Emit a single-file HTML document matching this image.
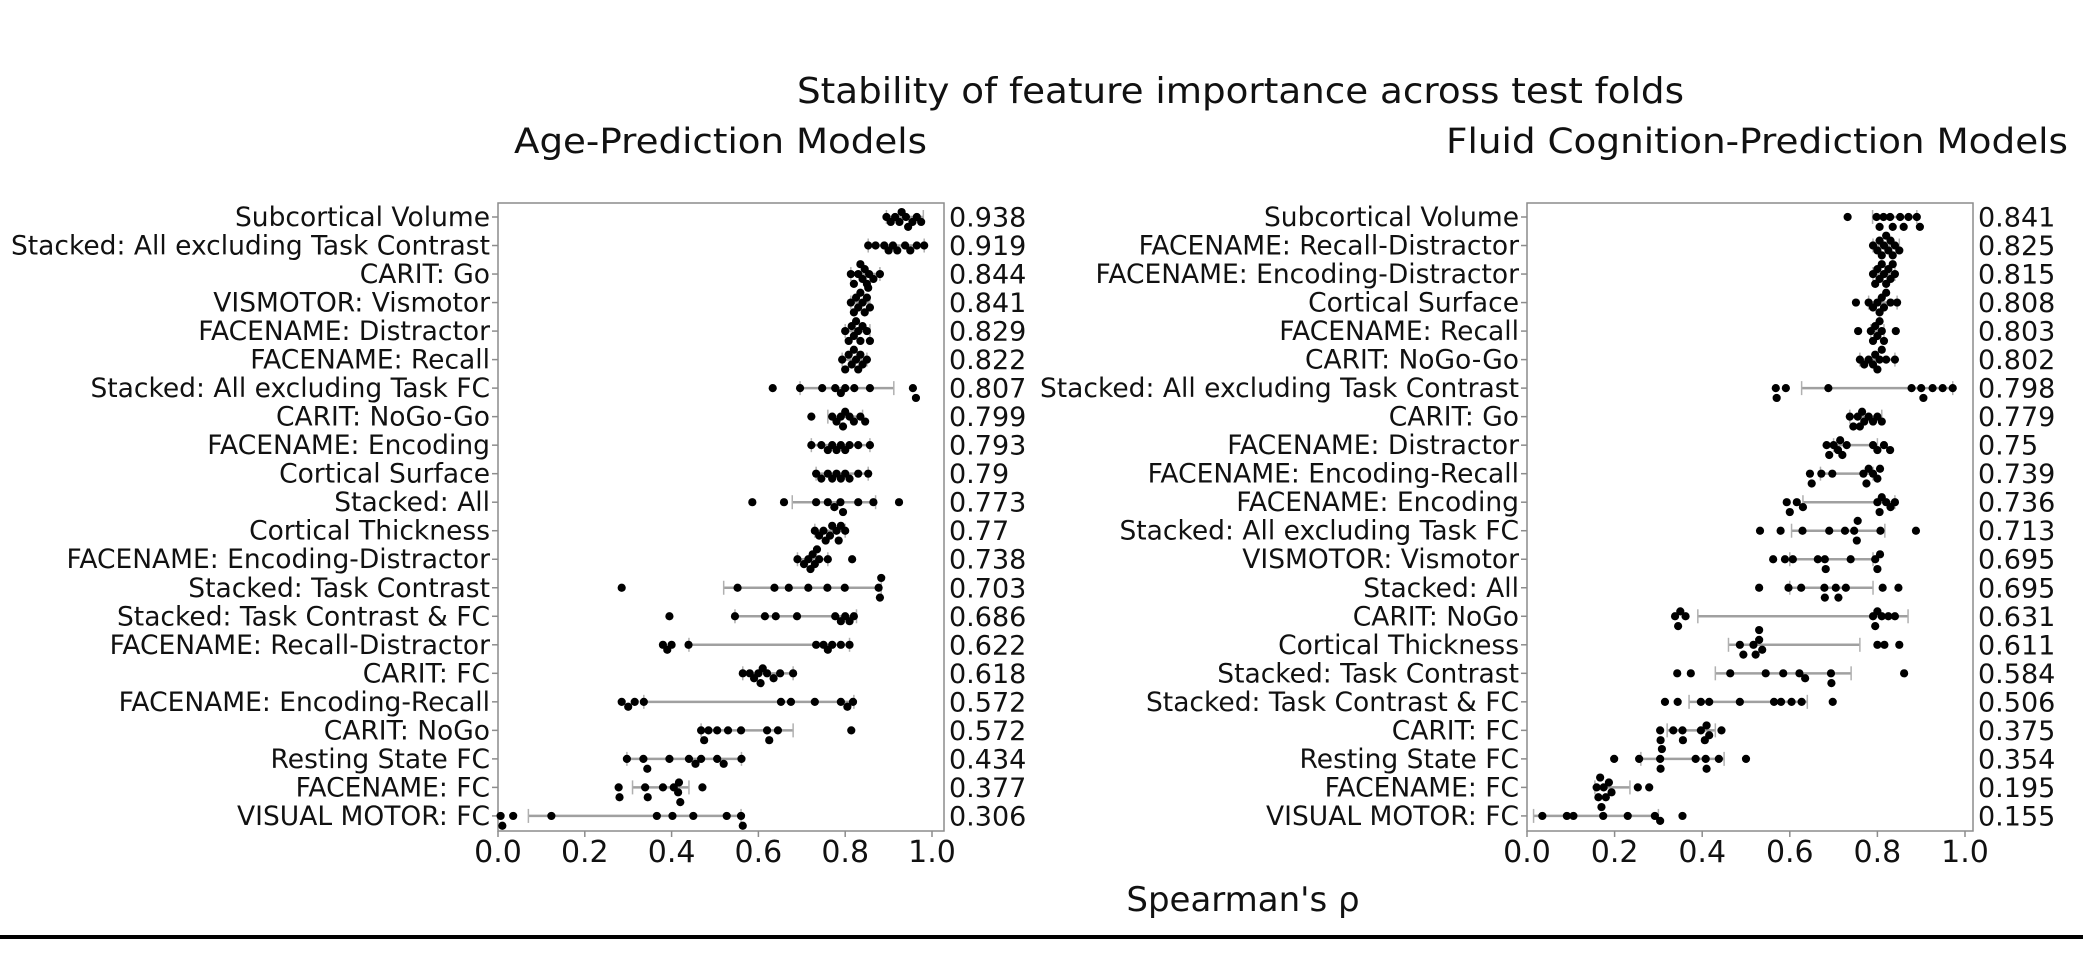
<!DOCTYPE html>
<html><head><meta charset="utf-8">
<style>
html,body{margin:0;padding:0;background:#fff;}
svg{display:block;font-family:"DejaVu Sans","Liberation Sans",sans-serif;}
</style></head>
<body>
<svg id="chart" width="2083" height="966" viewBox="0 0 2083 966" xmlns="http://www.w3.org/2000/svg">
<rect x="0" y="0" width="2083" height="966" fill="#fff"/>
<text x="797" y="103" font-size="36" textLength="887" lengthAdjust="spacingAndGlyphs" fill="#111">Stability of feature importance across test folds</text>
<text x="514" y="153" font-size="35" textLength="413" lengthAdjust="spacingAndGlyphs" fill="#111">Age-Prediction Models</text>
<text x="1446" y="153" font-size="35" textLength="622" lengthAdjust="spacingAndGlyphs" fill="#111">Fluid Cognition-Prediction Models</text>
<text x="1243" y="911" font-size="34" text-anchor="middle" fill="#111">Spearman's ρ</text>
<rect x="0" y="935" width="2083" height="4" fill="#000"/>
<g id="panels"></g>
</svg>
<script>
// ---- Age panel data ----
const ageLabels = ["Subcortical Volume","Stacked: All excluding Task Contrast","CARIT: Go","VISMOTOR: Vismotor","FACENAME: Distractor","FACENAME: Recall","Stacked: All excluding Task FC","CARIT: NoGo-Go","FACENAME: Encoding","Cortical Surface","Stacked: All","Cortical Thickness","FACENAME: Encoding-Distractor","Stacked: Task Contrast","Stacked: Task Contrast & FC","FACENAME: Recall-Distractor","CARIT: FC","FACENAME: Encoding-Recall","CARIT: NoGo","Resting State FC","FACENAME: FC","VISUAL MOTOR: FC"];
const ageMeans = ["0.938","0.919","0.844","0.841","0.829","0.822","0.807","0.799","0.793","0.79","0.773","0.77","0.738","0.703","0.686","0.622","0.618","0.572","0.572","0.434","0.377","0.306"];
const agePoints = [
 [0.895,0.905,0.915,0.925,0.93,0.94,0.945,0.955,0.965,0.975],
 [0.853,0.87,0.89,0.9,0.91,0.92,0.938,0.95,0.965,0.982],
 [0.813,0.82,0.83,0.835,0.84,0.845,0.85,0.855,0.865,0.88],
 [0.813,0.82,0.825,0.83,0.835,0.84,0.845,0.85,0.853,0.857],
 [0.8,0.808,0.815,0.82,0.825,0.83,0.835,0.84,0.85,0.857],
 [0.793,0.8,0.808,0.815,0.82,0.825,0.83,0.835,0.84,0.85],
 [0.633,0.696,0.747,0.777,0.79,0.8,0.821,0.857,0.956,0.963],
 [0.722,0.77,0.78,0.79,0.795,0.8,0.81,0.82,0.835,0.846],
 [0.722,0.745,0.76,0.77,0.78,0.79,0.8,0.81,0.83,0.857],
 [0.733,0.745,0.76,0.77,0.78,0.79,0.8,0.81,0.83,0.853],
 [0.586,0.659,0.733,0.76,0.775,0.789,0.795,0.83,0.865,0.924],
 [0.73,0.74,0.75,0.755,0.765,0.77,0.78,0.785,0.79,0.8],
 [0.69,0.705,0.715,0.72,0.725,0.73,0.735,0.74,0.76,0.816],
 [0.285,0.552,0.637,0.67,0.715,0.759,0.799,0.877,0.88,0.883],
 [0.395,0.546,0.615,0.64,0.689,0.777,0.79,0.8,0.81,0.82],
 [0.38,0.39,0.4,0.439,0.733,0.75,0.76,0.77,0.79,0.81],
 [0.564,0.58,0.59,0.6,0.605,0.61,0.62,0.635,0.65,0.68],
 [0.285,0.3,0.315,0.336,0.652,0.675,0.73,0.79,0.805,0.818],
 [0.468,0.475,0.485,0.505,0.53,0.56,0.62,0.625,0.645,0.814],
 [0.297,0.335,0.344,0.395,0.44,0.455,0.468,0.505,0.52,0.561],
 [0.278,0.28,0.339,0.345,0.38,0.405,0.415,0.417,0.42,0.471],
 [0.006,0.01,0.035,0.123,0.366,0.402,0.45,0.527,0.56,0.564]
];
const ageWhisk = [[0.895,0.98],[0.853,0.982],[0.813,0.88],[0.813,0.857],[0.8,0.857],[0.793,0.85],[0.696,0.912],[0.76,0.84],[0.722,0.857],[0.733,0.853],[0.678,0.87],[0.73,0.8],[0.69,0.76],[0.52,0.883],[0.546,0.826],[0.44,0.81],[0.564,0.68],[0.336,0.82],[0.468,0.68],[0.297,0.561],[0.31,0.44],[0.07,0.56]];

// ---- Fluid cognition panel data ----
const fluidLabels = ["Subcortical Volume","FACENAME: Recall-Distractor","FACENAME: Encoding-Distractor","Cortical Surface","FACENAME: Recall","CARIT: NoGo-Go","Stacked: All excluding Task Contrast","CARIT: Go","FACENAME: Distractor","FACENAME: Encoding-Recall","FACENAME: Encoding","Stacked: All excluding Task FC","VISMOTOR: Vismotor","Stacked: All","CARIT: NoGo","Cortical Thickness","Stacked: Task Contrast","Stacked: Task Contrast & FC","CARIT: FC","Resting State FC","FACENAME: FC","VISUAL MOTOR: FC"];
const fluidMeans = ["0.841","0.825","0.815","0.808","0.803","0.802","0.798","0.779","0.75","0.739","0.736","0.713","0.695","0.695","0.631","0.611","0.584","0.506","0.375","0.354","0.195","0.155"];
const fluidPoints = [
 [0.732,0.798,0.805,0.814,0.829,0.835,0.852,0.86,0.871,0.89,0.897],
 [0.79,0.8,0.805,0.81,0.815,0.82,0.825,0.83,0.835,0.84,0.85],
 [0.79,0.795,0.8,0.805,0.81,0.815,0.82,0.825,0.83,0.835,0.84],
 [0.751,0.78,0.79,0.8,0.805,0.81,0.815,0.82,0.83,0.845],
 [0.756,0.785,0.79,0.795,0.8,0.805,0.81,0.815,0.842],
 [0.76,0.77,0.78,0.79,0.795,0.8,0.805,0.81,0.82,0.84],
 [0.568,0.57,0.591,0.688,0.878,0.9,0.905,0.926,0.949,0.972],
 [0.737,0.745,0.755,0.76,0.765,0.77,0.78,0.79,0.8,0.81],
 [0.684,0.69,0.7,0.71,0.715,0.72,0.73,0.79,0.8,0.815,0.829],
 [0.646,0.65,0.672,0.697,0.768,0.775,0.78,0.79,0.8,0.806],
 [0.593,0.6,0.616,0.63,0.8,0.805,0.81,0.82,0.83,0.84],
 [0.532,0.579,0.629,0.69,0.726,0.747,0.753,0.755,0.807,0.888],
 [0.562,0.589,0.607,0.664,0.68,0.682,0.739,0.795,0.8,0.806],
 [0.53,0.597,0.626,0.679,0.68,0.705,0.711,0.728,0.812,0.848],
 [0.338,0.345,0.35,0.362,0.79,0.795,0.8,0.81,0.825,0.84],
 [0.486,0.494,0.517,0.522,0.53,0.53,0.537,0.8,0.816,0.85],
 [0.343,0.374,0.464,0.545,0.585,0.622,0.635,0.694,0.695,0.861],
 [0.315,0.344,0.397,0.416,0.486,0.564,0.58,0.604,0.627,0.698],
 [0.304,0.305,0.334,0.355,0.356,0.397,0.406,0.41,0.416,0.444],
 [0.199,0.256,0.304,0.305,0.308,0.385,0.408,0.41,0.438,0.5],
 [0.159,0.163,0.167,0.17,0.175,0.18,0.187,0.193,0.253,0.279],
 [0.035,0.091,0.106,0.174,0.23,0.292,0.304,0.355]
];
const fluidWhisk = [[0.789,0.89],[0.79,0.85],[0.79,0.84],[0.78,0.845],[0.785,0.815],[0.76,0.84],[0.627,0.972],[0.737,0.81],[0.7,0.8],[0.67,0.79],[0.63,0.84],[0.604,0.817],[0.6,0.79],[0.6,0.79],[0.39,0.87],[0.46,0.76],[0.43,0.74],[0.37,0.64],[0.32,0.43],[0.26,0.45],[0.155,0.235],[0.015,0.3]];
const xTicks = ["0.0","0.2","0.4","0.6","0.8","1.0"];

const NS = "http://www.w3.org/2000/svg";
const root = document.getElementById('panels');
function mk(tag, attrs, parent){ const e=document.createElementNS(NS,tag); for(const k in attrs) e.setAttribute(k,attrs[k]); (parent||root).appendChild(e); return e; }

const TOP=203, BOT=831, ROW0=217, ROWSTEP=28.52, R=4.1;

function panel(name, x0, x1val, labels, means, pts, whisk){
  const frameR = x0 + 446;
  const xs = v => x0 + v*(x1val - x0);
  const ys = i => ROW0 + i*ROWSTEP;
  const g = mk('g',{});
  
  
  const fr = mk('rect',{x:x0,y:TOP,width:frameR-x0,height:BOT-TOP,fill:'none',stroke:'#8c8c8c','stroke-width':1.5},g);
  
  
  xTicks.forEach(t=>{
    const v=parseFloat(t), X=xs(v);
    const tk=mk('line',{x1:X,x2:X,y1:BOT,y2:BOT+6,stroke:'#8c8c8c','stroke-width':1.5},g);
    
    
    const tl=mk('text',{x:X,y:862,'font-size':30,'text-anchor':'middle',fill:'#111'},g);
    tl.textContent=t;
    
    
  });
  labels.forEach((lab,i)=>{
    const Y=ys(i);
    const tk=mk('line',{x1:x0-6,x2:x0,y1:Y,y2:Y,stroke:'#8c8c8c','stroke-width':1.5},g);
    
    
    const tl=mk('text',{x:x0-8,y:Y+9,'font-size':26.5,'text-anchor':'end',fill:'#111'},g);
    tl.textContent=lab;
    
    
    const mv=mk('text',{x:frameR+5,y:Y+9.5,'font-size':27,fill:'#111'},g);
    mv.textContent=means[i];
    
    
    const w=whisk[i];
    const wl=mk('line',{x1:xs(w[0]),x2:xs(w[1]),y1:Y,y2:Y,stroke:'#a0a0a0','stroke-width':2.5},g);
    
    
    [w[0],w[1]].forEach(v=>{
      const c=mk('line',{x1:xs(v),x2:xs(v),y1:Y-7,y2:Y+7,stroke:'#b0b0b0','stroke-width':1.5},g);
      
      
    });
    const placed=[];
    pts[i].slice().sort((a,b)=>a-b).forEach(v=>{
      const X=xs(v);
      const offs=[0];
      for(let k=1;k<6;k++){offs.push(k*R*1.2);offs.push(-k*R*1.2);}
      let dy=offs[offs.length-1];
      for(const o of offs){
        if(placed.every(p=>Math.hypot(p[0]-X,p[1]-o)>=2*R*0.8)){dy=o;break;}
      }
      placed.push([X,dy]);
      const d=mk('circle',{cx:X,cy:Y+dy,r:R,fill:'#000'},g);
      
      
    });
  });
}
panel('age', 498, 932, ageLabels, ageMeans, agePoints, ageWhisk);
panel('fluid', 1527, 1965, fluidLabels, fluidMeans, fluidPoints, fluidWhisk);
</script>
</body></html>
